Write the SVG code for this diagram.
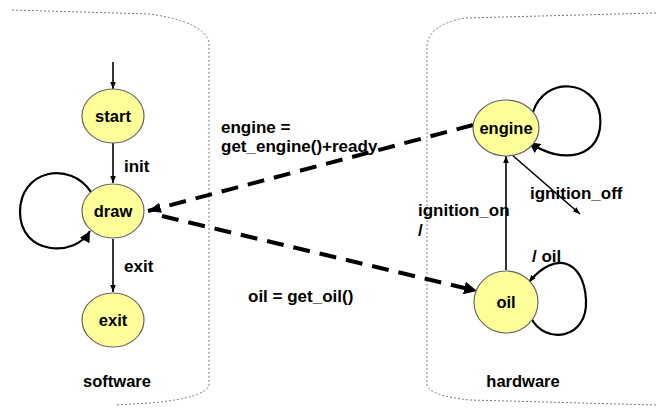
<svg xmlns="http://www.w3.org/2000/svg" width="656" height="408" viewBox="0 0 656 408">
<style>
.bg{fill:#fff}
.cont{fill:none;stroke:#777;stroke-width:1;stroke-dasharray:2 2}
.st{fill:#ffff99;stroke:#666;stroke-width:1.2}
.t{font-family:"Liberation Sans",Arial,sans-serif;font-size:17px;font-weight:bold;fill:#000}
.n{font-size:16.5px}
.c{text-anchor:middle}
.ln{fill:none;stroke:#000;stroke-width:1.6}
.lp{fill:none;stroke:#000;stroke-width:2.2}
.dl{fill:none;stroke:#000;stroke-width:4;stroke-dasharray:17 10}
</style>
<defs>
<marker id="ah" viewBox="0 0 10 10" refX="10" refY="5" markerWidth="7" markerHeight="7" markerUnits="userSpaceOnUse" orient="auto"><path d="M0,1 L10,5 L0,9 z" fill="#000"/></marker>
<marker id="ahb" viewBox="0 0 10 10" refX="10" refY="5" markerWidth="11" markerHeight="11" markerUnits="userSpaceOnUse" orient="auto"><path d="M0,0 L10,5 L0,10 z" fill="#000"/></marker>
<marker id="ahd" viewBox="0 0 10 10" refX="10" refY="5" markerWidth="13" markerHeight="13" markerUnits="userSpaceOnUse" orient="auto"><path d="M0,0 L10,5 L0,10 z" fill="#000"/></marker>
<marker id="ahs" viewBox="0 0 10 10" refX="10" refY="5" markerWidth="13" markerHeight="13" markerUnits="userSpaceOnUse" orient="auto"><path d="M0,1 L10,5 L0,9 z" fill="#000"/></marker>
</defs>
<rect class="bg" width="656" height="408"/>
<g id="containers">
<path class="cont" d="M12,10 L150,14 Q205,22 209,43 L209,385 Q206,398 150,403 L115,405"/>
<path class="cont" d="M656,13 L465,18 Q430,24 427,45 L427,385 Q430,396 470,400 L656,405"/>
<text class="t n c" x="117" y="387">software</text>
<text class="t n c" x="523" y="387">hardware</text>
</g>
<g id="connectors">
<line class="ln" x1="113" y1="62" x2="113" y2="89" marker-end="url(#ah)"/>
<line class="ln" x1="113" y1="143" x2="113" y2="183" marker-end="url(#ah)"/>
<line class="ln" x1="113" y1="239" x2="113" y2="292" marker-end="url(#ah)"/>
<path class="lp" d="M91,192 C70,160 20,170 20,212 C20,255 75,258 90,231" marker-end="url(#ahb)"/>
<path class="dl" d="M473,125 L148,211" marker-end="url(#ahs)"/>
<path class="dl" d="M162,216 L477,291" marker-end="url(#ahd)"/>
<path class="lp" d="M533,112 C545,75 595,80 600,115 C605,160 560,165 529,142" marker-end="url(#ahb)"/>
<line class="ln" x1="511" y1="154" x2="580" y2="214" marker-end="url(#ah)"/>
<line class="ln" x1="506" y1="270" x2="506" y2="156" marker-end="url(#ah)"/>
<path class="lp" d="M531,318 C545,345 588,340 586,300 C584,260 555,250 529,282" marker-end="url(#ah)"/>
</g>
<g id="labels">
<text class="t" x="124" y="172">init</text>
<text class="t" x="124" y="272">exit</text>
<text class="t" x="221" y="133">engine =</text>
<text class="t" x="221" y="152">get_engine()+ready</text>
<text class="t" x="248" y="302">oil = get_oil()</text>
<text class="t" x="530" y="199">ignition_off</text>
<text class="t" x="418" y="216">ignition_on</text>
<text class="t" x="418" y="236">/</text>
<text class="t" x="532" y="262">/ oil</text>
</g>
<g id="node-start"><ellipse class="st" cx="113" cy="116" rx="31" ry="27"/><text class="t n c" x="113" y="122">start</text></g>
<g id="node-draw"><ellipse class="st" cx="113" cy="211" rx="31" ry="27"/><text class="t n c" x="113" y="217">draw</text></g>
<g id="node-exit"><ellipse class="st" cx="113" cy="320" rx="31" ry="27"/><text class="t n c" x="113" y="326">exit</text></g>
<g id="node-engine"><ellipse class="st" cx="506" cy="128" rx="33" ry="28"/><text class="t n c" x="506" y="134">engine</text></g>
<g id="node-oil"><ellipse class="st" cx="506" cy="302" rx="32" ry="31"/><text class="t n c" x="506" y="308">oil</text></g>
</svg>
